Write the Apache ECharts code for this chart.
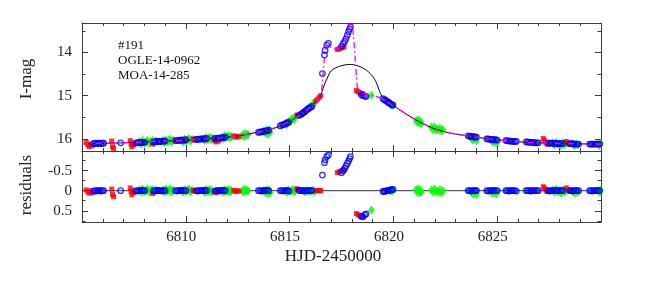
<!DOCTYPE html>
<html><head><meta charset="utf-8">
<script src="https://cdn.jsdelivr.net/npm/echarts@6/dist/echarts.min.js"></script>
<style>html,body{margin:0;padding:0;background:#fff}#c{width:664px;height:285px}</style>
</head><body><div id="c"></div>
<script>
// ---------- data ----------
const xTickLabels = [6810, 6815, 6820, 6825];
const magTickLabels = [14, 15, 16];
const magMinorTicks = [13.5, 14.5, 15.5];
const resTickLabels = [-0.5, 0, 0.5];
const resMinorTicks = [-0.75, -0.25, 0.25, 0.75];
const annotation = ['#191', 'OGLE-14-0962', 'MOA-14-285'];

// binary-lens model (magenta dash-dot)
const binDay = [6805,6806,6807,6808,6809,6810,6811,6812,6812.5,6813,6813.5,6814,6814.5,6815,6815.5,6816,6816.3,6816.5,6816.56,6816.61,6816.69,6816.77,6816.84,6816.95,6817.1,6817.3,6817.45,6817.58,6817.74,6817.82,6817.9,6817.95,6818.0,6818.03,6818.15,6818.27,6818.4,6818.6,6818.9,6819.2,6819.5,6819.8,6820.3,6820.8,6821.3,6822,6822.5,6823,6823.7,6824.6,6825.6,6826.5,6827.7,6828.8,6830];
const binMag = [16.11,16.10,16.09,16.07,16.05,16.03,16.00,15.96,15.93,15.89,15.84,15.79,15.71,15.60,15.45,15.27,15.12,15.00,14.8,14.49,14.06,13.83,13.79,13.87,13.92,13.92,13.88,13.79,13.64,13.5,13.4,13.32,13.15,13.32,14.1,14.87,14.92,14.96,14.99,15.02,15.07,15.17,15.33,15.48,15.62,15.77,15.84,15.89,15.94,16.00,16.05,16.08,16.10,16.11,16.12];

// single-lens model (black)
const sglDay = [6805,6806,6807,6808,6809,6810,6811,6812,6812.5,6813,6813.5,6814,6814.5,6815,6815.5,6816,6816.3,6816.45,6816.55,6816.65,6816.77,6816.95,6817.1,6817.35,6817.57,6817.8,6817.98,6818.2,6818.4,6818.6,6818.8,6818.94,6819.08,6819.18,6819.26,6819.33,6819.42,6819.5,6819.74,6820.3,6820.8,6821.3,6822,6822.5,6823,6823.7,6824.6,6825.6,6826.5,6827.7,6828.8,6830];
const sglMag = [16.11,16.10,16.09,16.07,16.05,16.03,16.00,15.96,15.93,15.89,15.84,15.79,15.71,15.60,15.45,15.27,15.12,15.04,14.92,14.78,14.64,14.46,14.39,14.33,14.3,14.28,14.28,14.3,14.33,14.38,14.45,14.52,14.61,14.7,14.8,14.9,14.99,15.04,15.12,15.33,15.48,15.62,15.77,15.84,15.89,15.94,16.00,16.05,16.08,16.10,16.11,16.12];

// zero line of residual panel
const zeroDay = [6805, 6830];
const zeroRes = [0, 0];

// red data set
const redDay = [6805.2,6805.28,6805.35,6805.42,6805.5, 6806.43,6806.47,6806.52, 6807.32,6807.36,6807.4,6807.44,6807.48, 6808.4, 6810.35,6810.42, 6811.38,6811.45,6811.52,6811.58, 6812.32,6812.4,6812.48,6812.56, 6815.35,6815.42, 6816.27,6816.35,6816.43,6816.5, 6817.3,6817.38,6817.46,6817.54,6817.62, 6818.22,6818.3,6818.38,6818.46,6818.52, 6827.22,6827.28,6827.34,6827.4, 6828.33,6828.42,6828.5];
const redMag = [16.08,16.14,16.18,16.12,16.16, 16.05,16.18,16.22, 16.04,16.12,16.18,16.1,16.14, 16.12, 16.0,16.03, 16.03,16.07,16.02,16.05, 15.93,15.96,15.94,15.95, 15.45,15.46, 15.12,15.08,15.04,15.0, 13.93,13.92,13.9,13.89,13.87, 14.88,14.91,14.93,14.95,14.96, 15.99,16.04,16.08,16.12, 16.06,16.1,16.12];
const redRes = [-0.02,0.03,0.06,0.0,0.05, -0.04,0.09,0.15, -0.07,0.02,0.1,0.0,0.05, 0.07, -0.01,0.01, 0.02,0.05,0.0,0.03, -0.01,0.02,0.0,0.01, -0.05,-0.03, 0.0,0.0,-0.01,0.0, -0.45,-0.47,-0.49,-0.51,-0.52, 0.57,0.6,0.62,0.64,0.63, -0.1,-0.06,-0.02,0.02, -0.07,-0.02,0.01];

// blue data set
const blueDay = [6805.56,6805.63,6805.70,6805.77,6805.84,6805.91,6805.98,6806.04, 6806.86, 6807.6,6807.67,6807.74,6807.81,6807.88,6807.95,6808.02, 6808.45,6808.52,6808.59,6808.66,6808.73,6808.8,6808.87,6808.94,6809.0, 6809.5,6809.57,6809.64,6809.71,6809.78,6809.85,6809.92,6810.0, 6810.5,6810.57,6810.64,6810.71,6810.78,6810.85,6810.92,6811.0, 6811.4,6811.47,6811.54,6811.61,6811.68,6811.75,6811.82,6811.9, 6813.5,6813.57,6813.64,6813.71,6813.78,6813.85,6813.92,6814.0, 6814.55,6814.62,6814.69,6814.76,6814.83,6814.9,6814.97, 6815.45,6815.52,6815.59,6815.66,6815.73,6815.8,6815.87,6815.94,6816.01,6816.07, 6816.58,6816.68,6816.71,6816.79,6816.87, 6817.5,6817.58,6817.66,6817.72,6817.78,6817.84,6817.89,6817.93, 6818.46,6818.54,6818.62,6818.68, 6819.5,6819.56,6819.62,6819.68,6819.74,6819.8,6819.86,6819.92,6819.98, 6823.6,6823.67,6823.74,6823.81,6823.88,6823.95,6824.0, 6824.5,6824.57,6824.64,6824.71,6824.78,6824.85,6824.92,6825.0, 6825.42,6825.49,6825.56,6825.63,6825.7,6825.77,6825.84,6825.92, 6826.4,6826.47,6826.54,6826.61,6826.68,6826.75,6826.82,6826.9,6826.98, 6827.45,6827.52,6827.59,6827.66,6827.73,6827.8,6827.87,6827.94,6828.0,6828.08,6828.15, 6828.5,6828.57,6828.64,6828.71,6828.78,6828.85,6828.92, 6829.45,6829.52,6829.59,6829.66,6829.73,6829.8,6829.87,6829.93];
const blueMag = [16.11,16.10,16.11,16.10,16.10,16.11,16.10,16.10, 16.09, 16.09,16.09,16.08,16.09,16.08,16.08,16.08, 16.07,16.07,16.06,16.06,16.06,16.06,16.05,16.05,16.05, 16.04,16.04,16.04,16.03,16.03,16.03,16.03,16.02, 16.01,16.01,16.01,16.0,16.0,16.0,16.0,15.99, 15.99,15.99,15.98,15.98,15.98,15.97,15.97,15.96, 15.85,15.84,15.84,15.83,15.82,15.82,15.81,15.8, 15.7,15.68,15.67,15.66,15.64,15.63,15.61, 15.46,15.44,15.42,15.39,15.37,15.34,15.31,15.29,15.27,15.25, 14.49,14.06,13.95,13.83,13.79, 13.86,13.8,13.74,13.68,13.6,13.52,13.46,13.41, 14.98,15.0,15.01,15.02, 15.07,15.09,15.11,15.13,15.15,15.17,15.19,15.21,15.22, 15.93,15.94,15.94,15.95,15.95,15.96,15.96, 16.0,16.0,16.01,16.01,16.02,16.02,16.02,16.03, 16.04,16.04,16.05,16.05,16.05,16.06,16.06,16.06, 16.07,16.07,16.08,16.08,16.08,16.08,16.09,16.09,16.09, 16.1,16.1,16.1,16.1,16.1,16.11,16.11,16.11,16.11,16.11,16.11, 16.11,16.11,16.11,16.12,16.12,16.12,16.12, 16.12,16.12,16.12,16.12,16.12,16.12,16.12,16.12];
const blueRes = [0.01,0,0.01,0,-0.01,0.01,0,0, 0, 0,0.01,0,0,-0.01,0,0, 0,0.01,0,-0.01,0,0,0.01,0,0, 0,0.01,0,0,-0.01,0,0,0, 0,0.01,0,0,0,-0.01,0,0, 0.01,0,0,0,-0.01,0,0,0, 0,0,0.01,0,0,-0.01,0,0, 0,0,0.01,0,0,0,0.01, -0.01,0,0,0,0.01,0,0,0,0,0, -0.39,-0.7,-0.77,-0.85,-0.89, -0.45,-0.5,-0.56,-0.62,-0.68,-0.74,-0.8,-0.85, 0.64,0.65,0.6,0.58, 0.02,0.02,0.01,0,0,-0.01,-0.02,-0.02,-0.03, 0,0,0.01,0,0,0,0, 0,0.01,0,0,0,0,0,0, 0,0,0.01,0,0,0,0,0.01, 0,0,0,0.01,0,0,0,0,0, 0,0.01,0,0,0,0,0,0,0,0,0, 0,0,0.01,0,0,0,0, 0,0,0.01,0,0,0,0,0];

// green data set
const greenDay = [6807.75,6807.83,6807.91,6807.99,6808.07,6808.15,6808.23,6808.31,6808.39,6808.47,6808.55, 6808.9,6808.97,6809.04,6809.11,6809.18,6809.25,6809.32,6809.4, 6809.8,6809.87,6809.94,6810.01,6810.08,6810.15,6810.22,6810.3, 6810.86,6810.92,6810.98,6811.04,6811.1,6811.16,6811.22,6811.26, 6811.74,6811.8,6811.86,6811.92,6811.98,6812.04,6812.1,6812.16,6812.2, 6812.72,6812.78,6812.84,6812.9,6812.96,6813.0, 6813.76,6813.82,6813.88,6813.94,6814.0,6814.06, 6814.8,6814.87,6814.94,6815.01,6815.08,6815.15,6815.22,6815.27, 6815.68,6815.75,6815.82,6815.9,6815.98,6816.06,6816.14,6816.22, 6818.94, 6819.82,6819.87,6819.92,6819.97, 6821.1,6821.15,6821.2,6821.25,6821.3,6821.35, 6821.83,6821.9,6821.97,6822.04,6822.11,6822.18,6822.25,6822.32,6822.39, 6823.76,6823.84,6823.92,6824.0, 6824.72,6824.8,6824.88,6824.96, 6827.68,6827.76,6827.84,6827.92,6828.0,6828.08,6828.16,6828.24,6828.32, 6828.64,6828.72,6828.8,6828.88, 6829.86,6829.92,6829.98];
const greenMag = [16.06,16.11,16.04,16.1,16.07,16.03,16.1,16.06,16.04,16.09,16.05, 16.04,16.09,16.02,16.07,16.04,16.01,16.07,16.03, 16.03,16.07,16.0,16.05,16.02,15.99,16.05,16.01, 16.0,16.04,15.97,16.02,15.99,15.96,16.02,15.98, 15.96,16.0,15.93,15.98,15.95,15.92,15.97,15.94,15.96, 15.91,15.95,15.87,15.92,15.89,15.9, 15.82,15.86,15.8,15.9,15.79,15.84, 15.64,15.67,15.6,15.6,15.56,15.52,15.55,15.5, 15.39,15.37,15.32,15.31,15.26,15.24,15.18,15.16, 14.99, 15.17,15.2,15.21,15.23, 15.57,15.62,15.56,15.63,15.6,15.65, 15.73,15.78,15.72,15.79,15.76,15.8,15.75,15.82,15.79, 15.99,16.03,15.97,16.05, 16.04,16.08,16.05,16.1, 16.1,16.14,16.08,16.13,16.11,16.16,16.09,16.13,16.1, 16.12,16.16,16.11,16.14, 16.12,16.15,16.1];
const greenRes = [-0.02,0.03,-0.04,0.03,0,-0.04,0.03,-0.01,-0.03,0.03,-0.02, -0.02,0.03,-0.04,0.02,-0.01,-0.04,0.03,-0.02, 0,0.04,-0.03,0.02,-0.01,-0.04,0.03,-0.01, 0,0.04,-0.03,0.02,0,-0.03,0.03,0, 0,0.04,-0.03,0.02,0,-0.03,0.03,-0.01,0.01, 0,0.04,-0.04,0.02,-0.01,0, 0,0.04,-0.02,0.07,-0.02,0.05, 0,0.04,-0.02,0.02,0,-0.03,0.03,0, 0.01,0.03,-0.01,0.02,0,0.01,-0.02,0.02, 0.48, -0.01,0.01,-0.02,0, -0.03,0.04,-0.05,0.05,-0.01,0.03, -0.02,0.03,-0.04,0.03,0,0.04,-0.03,0.05,0, 0.04,0.08,0.02,0.1, 0.03,0.07,0.02,0.08, -0.02,0.04,-0.04,0.03,0,0.06,-0.02,0.03,0, 0.01,0.06,0,0.04, 0,0.04,-0.02];

// ---------- chart ----------
const zip = (a, b) => a.map((v, i) => [v, b[i]]);
const FONT = 'Liberation Serif';
const AX = '#3c3c3c';
const TXT = '#222';

function xAx(grid, pos, labels) {
  return {
    type: 'value', gridIndex: grid, position: pos, min: 6805, max: 6830, interval: 5,
    axisLine: {show: true, onZero: false, lineStyle: {color: AX, width: 1}},
    axisTick: {show: true, inside: true, length: 6, lineStyle: {color: AX}},
    minorTick: {show: true, splitNumber: 5, length: 3, lineStyle: {color: AX}},
    splitLine: {show: false}, minorSplitLine: {show: false},
    axisLabel: {show: labels, customValues: xTickLabels, formatter: v => String(v), margin: 8, fontFamily: FONT, fontSize: 15, color: TXT, padding: [0, 9, 0, 0]}
  };
}
function yAx(grid, pos, min, max, ticks, len, labels, line) {
  return {
    type: 'value', gridIndex: grid, position: pos, inverse: true, min: min, max: max,
    axisLine: {show: line, onZero: false, lineStyle: {color: AX, width: 1}},
    axisTick: {show: true, inside: true, length: len, customValues: ticks, lineStyle: {color: AX}},
    axisLabel: {show: !!labels, customValues: labels || ticks, formatter: v => String(v), margin: 10, fontFamily: FONT, fontSize: 15, color: TXT},
    splitLine: {show: false}
  };
}

const chart = echarts.init(document.getElementById('c'), null, {renderer: 'canvas'});
chart.setOption({
  animation: false,
  backgroundColor: '#fff',
  grid: [
    {left: 82, right: 63, top: 23, height: 128},
    {left: 82, right: 63, top: 151, height: 71}
  ],
  xAxis: [xAx(0, 'bottom', false), xAx(0, 'top', false), xAx(1, 'bottom', true), xAx(1, 'top', false)],
  yAxis: [
    yAx(0, 'left', 13.32, 16.28, magTickLabels, 6, magTickLabels, true),
    yAx(0, 'left', 13.32, 16.28, magMinorTicks, 3.5, null, false),
    yAx(0, 'right', 13.32, 16.28, magTickLabels, 6, null, true),
    yAx(0, 'right', 13.32, 16.28, magMinorTicks, 3.5, null, false),
    yAx(1, 'left', -0.99, 0.78, resTickLabels, 6, resTickLabels, true),
    yAx(1, 'left', -0.99, 0.78, resMinorTicks, 3.5, null, false),
    yAx(1, 'right', -0.99, 0.78, resTickLabels, 6, null, true),
    yAx(1, 'right', -0.99, 0.78, resMinorTicks, 3.5, null, false)
  ],
  series: [
    {type: 'line', xAxisIndex: 2, yAxisIndex: 4, data: zip(zeroDay, zeroRes), symbol: 'none', lineStyle: {color: '#333', width: 1}, z: 1, silent: true},
    {type: 'scatter', xAxisIndex: 0, yAxisIndex: 0, data: zip(greenDay, greenMag), symbol: 'diamond', symbolSize: [7, 9], itemStyle: {color: '#00ff00'}, z: 2, silent: true},
    {type: 'scatter', xAxisIndex: 0, yAxisIndex: 0, data: zip(redDay, redMag), symbol: 'rect', symbolSize: 5, itemStyle: {color: '#ff0000'}, z: 3, silent: true},
    {type: 'scatter', xAxisIndex: 0, yAxisIndex: 0, data: zip(blueDay, blueMag), symbol: 'circle', symbolSize: 5.5, itemStyle: {color: 'rgba(255,255,255,0)', borderColor: '#0000ff', borderWidth: 1.3}, z: 4, silent: true},
    {type: 'scatter', xAxisIndex: 2, yAxisIndex: 4, data: zip(greenDay, greenRes), symbol: 'diamond', symbolSize: [7, 9], itemStyle: {color: '#00ff00'}, z: 2, silent: true},
    {type: 'scatter', xAxisIndex: 2, yAxisIndex: 4, data: zip(redDay, redRes), symbol: 'rect', symbolSize: 5, itemStyle: {color: '#ff0000'}, z: 3, silent: true},
    {type: 'scatter', xAxisIndex: 2, yAxisIndex: 4, data: zip(blueDay, blueRes), symbol: 'circle', symbolSize: 5.5, itemStyle: {color: 'rgba(255,255,255,0)', borderColor: '#0000ff', borderWidth: 1.3}, z: 4, silent: true},
    {type: 'line', xAxisIndex: 0, yAxisIndex: 0, data: zip(sglDay, sglMag), symbol: 'none', smooth: 0.3, lineStyle: {color: '#000', width: 1}, z: 5, silent: true},
    {type: 'line', xAxisIndex: 0, yAxisIndex: 0, data: zip(binDay, binMag), symbol: 'none', lineStyle: {color: '#ff00ff', width: 1.3, type: [6, 3, 1.5, 3]}, z: 6, silent: true}
  ],
  graphic: [
    {type: 'text', x: 118, y: 46, style: {text: annotation[0], fontFamily: FONT, fontSize: 13, fill: '#111', align: 'left', verticalAlign: 'middle'}},
    {type: 'text', x: 118, y: 61, style: {text: annotation[1], fontFamily: FONT, fontSize: 13, fill: '#111', align: 'left', verticalAlign: 'middle'}},
    {type: 'text', x: 118, y: 76, style: {text: annotation[2], fontFamily: FONT, fontSize: 13, fill: '#111', align: 'left', verticalAlign: 'middle'}},
    {type: 'text', x: 27, y: 79, rotation: Math.PI / 2, style: {text: 'I-mag', fontFamily: FONT, fontSize: 17, fill: TXT, align: 'center', verticalAlign: 'middle'}},
    {type: 'text', x: 27, y: 185, rotation: Math.PI / 2, style: {text: 'residuals', fontFamily: FONT, fontSize: 17, fill: TXT, align: 'center', verticalAlign: 'middle'}},
    {type: 'text', x: 333, y: 257, style: {text: 'HJD-2450000', fontFamily: FONT, fontSize: 17, fill: TXT, align: 'center', verticalAlign: 'middle'}}
  ]
});
</script></body></html>
